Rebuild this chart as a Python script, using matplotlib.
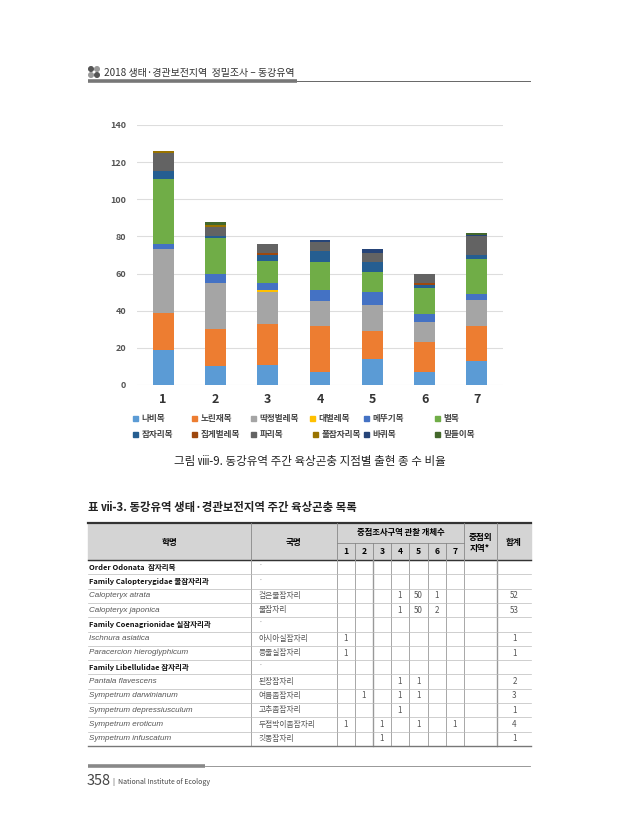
import numpy as np
import matplotlib
matplotlib.use('Agg')
from matplotlib import pyplot as plt
from matplotlib.patches import Rectangle

plt.rcParams['font.family'] = ['Noto Sans CJK KR', 'DejaVu Sans']

# chart data: species count per order at each site
sites = ['1', '2', '3', '4', '5', '6', '7']
orders = ['나비목', '노린재목', '딱정벌레목', '대벌레목', '메뚜기목', '벌목',
          '잠자리목', '집게벌레목', '파리목', '풀잠자리목', '바퀴목', '밑들이목']
counts = {
    '나비목':     [19, 10, 11, 7, 14, 7, 13],
    '노린재목':   [20, 20, 22, 25, 15, 16, 19],
    '딱정벌레목': [34, 25, 17, 13, 14, 11, 14],
    '대벌레목':   [0, 0, 1, 0, 0, 0, 0],
    '메뚜기목':   [3, 5, 4, 6, 7, 4, 3],
    '벌목':       [35, 19, 12, 15, 11, 14, 19],
    '잠자리목':   [4, 1, 3, 6, 5, 2, 2],
    '집게벌레목': [0, 0, 1, 0, 0, 1, 0],
    '파리목':     [10, 5, 5, 5, 5, 5, 10],
    '풀잠자리목': [1, 1, 0, 0, 0, 0, 0],
    '바퀴목':     [0, 0, 0, 1, 2, 0, 1],
    '밑들이목':   [0, 2, 0, 0, 0, 0, 1],
}
colors = ['#5B9BD5', '#ED7D31', '#A5A5A5', '#FFC000', '#4472C4', '#70AD47',
          '#255E91', '#9E480E', '#636363', '#997300', '#264478', '#43682B']

# table data
sci_names = ['Order Odonata  잠자리목', 'Family Calopterygidae 물잠자리과',
             'Calopteryx atrata', 'Calopteryx japonica',
             'Family Coenagrionidae 실잠자리과', 'Ischnura asiatica',
             'Paracercion hieroglyphicum', 'Family Libellulidae 잠자리과',
             'Pantala flavescens', 'Sympetrum darwinianum',
             'Sympetrum depressiusculum', 'Sympetrum eroticum',
             'Sympetrum infuscatum']
kor_names = ['·', '·', '검은물잠자리', '물잠자리', '·', '아시아실잠자리', '등줄실잠자리',
             '·', '된장잠자리', '여름좀잠자리', '고추좀잠자리', '두점박이좀잠자리', '깃동잠자리']
is_group = [True, True, False, False, True, False, False, True,
            False, False, False, False, False]
site_counts = [
    [None] * 7,
    [None] * 7,
    [None, None, None, 1, 50, 1, None],
    [None, None, None, 1, 50, 2, None],
    [None] * 7,
    [1, None, None, None, None, None, None],
    [1, None, None, None, None, None, None],
    [None] * 7,
    [None, None, None, 1, 1, None, None],
    [None, 1, None, 1, 1, None, None],
    [None, None, None, 1, None, None, None],
    [1, None, 1, None, 1, None, 1],
    [None, None, 1, None, None, None, None],
]
outside = [None] * 13
totals = [None, None, 52, 53, None, 1, 1, None, 2, 3, 1, 4, 1]

W, H = 619, 840
fig = plt.figure(figsize=(W / 100, H / 100), dpi=100)
bg = fig.add_axes([0, 0, 1, 1])
bg.set_xlim(0, W)
bg.set_ylim(H, 0)
bg.axis('off')

# page header
for dx, dy, c in [(0, 0, '#555555'), (6, 0, '#999999'), (0, 6, '#999999'), (6, 6, '#555555')]:
    bg.add_patch(plt.Circle((91 + dx, 69 + dy), 2.3, color=c))
bg.text(104, 73, '2018 생태·경관보전지역  정밀조사 – 동강유역', fontsize=7.2,
        va='center', color='#333333')
bg.plot([88, 297], [80.5, 80.5], color='#777777', lw=2.6, solid_capstyle='butt')
bg.plot([297, 530], [80.5, 80.5], color='#666666', lw=0.7)

# stacked bar chart
ax = fig.add_axes([137 / W, 1 - 385 / H, (503 - 137) / W, (385 - 125) / H])
x = np.arange(1, len(sites) + 1)
bottom = np.zeros(len(sites))
for name, col in zip(orders, colors):
    vals = np.array(counts[name])
    ax.bar(x, vals, 0.4, bottom=bottom, color=col, label=name)
    bottom += vals
ax.set_xlim(0.5, 7.5)
ax.set_ylim(0, 140)
ax.set_yticks(range(0, 141, 20))
ax.set_xticks(x)
ax.set_xticklabels(sites, fontsize=9, fontweight='bold', color='#333333')
ax.tick_params(axis='y', length=0, pad=8, labelsize=6.5, labelcolor='#555555')
ax.tick_params(axis='x', length=0, pad=6)
for lab in ax.get_yticklabels():
    lab.set_fontweight('bold')
ax.grid(axis='y', color='#DDDDDD', lw=0.8)
ax.set_axisbelow(True)
for s in ax.spines.values():
    s.set_visible(False)

# legend, two rows
leg_x = [135, 194, 253, 312, 366, 437, 135, 194, 253, 315, 366, 437]
leg_y = [418] * 6 + [434] * 6
for name, col, lx, ly in zip(orders, colors, leg_x, leg_y):
    bg.add_patch(Rectangle((lx - 2.5, ly - 2.5), 5, 5, color=col))
    bg.text(lx + 6.5, ly, name, fontsize=6.2, fontweight='bold', va='center', color='#444444')

bg.text(310, 461, '그림 ⅷ-9. 동강유역 주간 육상곤충 지점별 출현 종 수 비율', fontsize=8.3,
        ha='center', va='center', color='#222222')

# table
bg.text(88, 508, '표 ⅶ-3. 동강유역 생태·경관보전지역 주간 육상곤충 목록', fontsize=8.2,
        fontweight='bold', va='center', color='#222222')
cols = [88, 250.5, 337, 354.5, 373, 391, 409, 427.5, 446, 464, 496.5, 530.5]
top, sub, hb = 523, 543, 560
rh = (746 - hb) / len(sci_names)
bg.add_patch(Rectangle((cols[0], top), cols[-1] - cols[0], hb - top, color='#D4D4D4', zorder=0))
bg.plot([cols[0], cols[-1]], [top, top], color='#333333', lw=1.6)
bg.plot([cols[0], cols[-1]], [hb, hb], color='#333333', lw=1.0)
bg.plot([cols[2], cols[9]], [sub, sub], color='#888888', lw=0.6)
for i, cx in enumerate(cols[1:-1], start=1):
    y0 = sub if 3 <= i <= 8 else top
    bg.plot([cx, cx], [y0, hb], color='#888888', lw=0.6)
    bg.plot([cx, cx], [hb, 746], color='#999999', lw=1.0 if i in (4, 10) else 0.6)
bg.text((cols[0] + cols[1]) / 2, 543, '학명', fontsize=6.2, fontweight='bold', ha='center', va='center')
bg.text((cols[1] + cols[2]) / 2, 543, '국명', fontsize=6.2, fontweight='bold', ha='center', va='center')
bg.text((cols[2] + cols[9]) / 2, 533, '중점조사구역 관찰 개체수', fontsize=6.0, fontweight='bold',
        ha='center', va='center')
for k in range(7):
    bg.text((cols[2 + k] + cols[3 + k]) / 2, 551.5, str(k + 1), fontsize=6.2, fontweight='bold',
            ha='center', va='center')
bg.text((cols[9] + cols[10]) / 2, 543, '중점외\n지역*', fontsize=6.2, fontweight='bold',
        ha='center', va='center', linespacing=1.3)
bg.text((cols[10] + cols[11]) / 2, 543, '합계', fontsize=6.2, fontweight='bold', ha='center', va='center')

for r in range(len(sci_names)):
    yc = hb + (r + 0.5) * rh
    if r > 0:
        bg.plot([cols[0], cols[-1]], [hb + r * rh] * 2, color='#BBBBBB', lw=0.5)
    if is_group[r]:
        bg.text(cols[0] + 1, yc, sci_names[r], fontsize=5.4, fontweight='bold', va='center', color='#111111')
        bg.text(cols[1] + 8, yc - 1, kor_names[r], fontsize=5, va='center', color='#888888')
    else:
        bg.text(cols[0] + 1, yc, sci_names[r], fontsize=5.8, style='italic', va='center',
                color='#555555', family=['Liberation Sans', 'DejaVu Sans'])
        bg.text(cols[1] + 8, yc, kor_names[r], fontsize=5.6, va='center', color='#555555')
    for k, v in enumerate(site_counts[r]):
        if v is not None:
            bg.text((cols[2 + k] + cols[3 + k]) / 2, yc, str(v), fontsize=5.8, ha='center',
                    va='center', color='#555555')
    if outside[r] is not None:
        bg.text((cols[9] + cols[10]) / 2, yc, str(outside[r]), fontsize=5.8, ha='center', va='center')
    if totals[r] is not None:
        bg.text((cols[10] + cols[11]) / 2 + 1, yc, str(totals[r]), fontsize=5.8, ha='center',
                va='center', color='#555555')
bg.plot([cols[0], cols[-1]], [746, 746], color='#777777', lw=1.0)

# page footer
bg.plot([88, 205], [766, 766], color='#888888', lw=2.6, solid_capstyle='butt')
bg.plot([205, 530], [766, 766], color='#888888', lw=0.6)
bg.text(87, 781, '358', fontsize=10.5, va='center', color='#444444')
bg.text(113, 782, '|  National Institute of Ecology', fontsize=5.0, va='center', color='#444444')

fig.savefig('out.png', dpi=100)
